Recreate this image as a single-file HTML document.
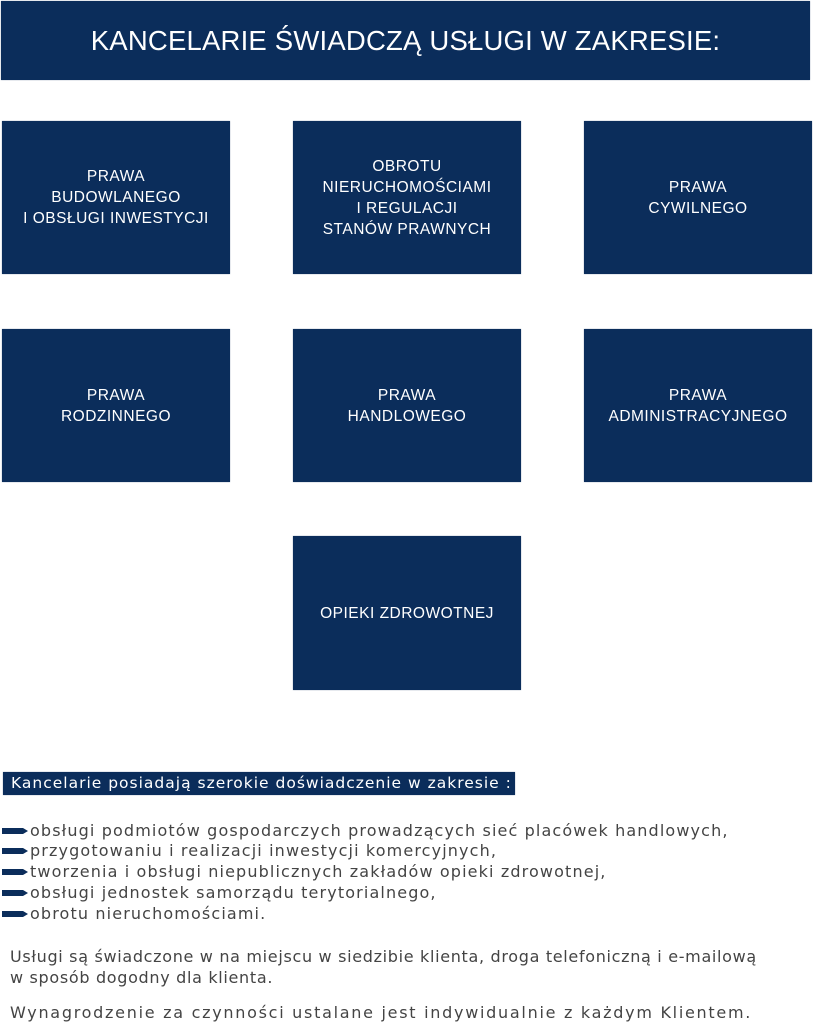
<!DOCTYPE html>
<html><head><meta charset="utf-8"><style>
body{margin:0;width:813px;height:1024px;background:#fff;position:relative;font-family:"Liberation Sans","DejaVu Sans",sans-serif;overflow:hidden}
.b{position:absolute;background:#0b2d5b;color:#fff;display:flex;align-items:center;justify-content:center;text-align:center;font-size:15.5px;line-height:21px;letter-spacing:0.5px;box-shadow:0 0 1px #8090a8}
.t{position:absolute;color:#444;font-size:16px;white-space:nowrap;font-family:"DejaVu Sans",sans-serif;letter-spacing:1.13px}
.ar{position:absolute;left:2px;width:26px;height:8px}
</style></head><body>
<div class="b" style="left:1px;top:1px;width:809px;height:79px;font-size:27.5px;letter-spacing:0.2px">KANCELARIE ŚWIADCZĄ USŁUGI W ZAKRESIE:</div>
<div class="b" style="left:2px;top:121px;width:228px;height:153px">PRAWA<br>BUDOWLANEGO<br>I OBSŁUGI INWESTYCJI</div>
<div class="b" style="left:293px;top:121px;width:228px;height:153px">OBROTU<br>NIERUCHOMOŚCIAMI<br>I REGULACJI<br>STANÓW PRAWNYCH</div>
<div class="b" style="left:584px;top:121px;width:228px;height:153px">PRAWA<br>CYWILNEGO</div>
<div class="b" style="left:2px;top:329px;width:228px;height:153px">PRAWA<br>RODZINNEGO</div>
<div class="b" style="left:293px;top:329px;width:228px;height:153px">PRAWA<br>HANDLOWEGO</div>
<div class="b" style="left:584px;top:329px;width:228px;height:153px">PRAWA<br>ADMINISTRACYJNEGO</div>
<div class="b" style="left:293px;top:536px;width:228px;height:154px">OPIEKI ZDROWOTNEJ</div>
<div class="b" style="left:3px;top:772px;width:512px;height:23px;font-size:15.5px;justify-content:flex-start;padding-left:8px;box-sizing:border-box;font-family:'DejaVu Sans',sans-serif;letter-spacing:1px;white-space:nowrap">Kancelarie posiadają szerokie doświadczenie w zakresie :</div>
<svg class="ar" style="top:827px" viewBox="0 0 26 8"><path d="M0 1H21L26 4L21 7H0Z" fill="#0b2d5b"/></svg>
<svg class="ar" style="top:847px" viewBox="0 0 26 8"><path d="M0 1H21L26 4L21 7H0Z" fill="#0b2d5b"/></svg>
<svg class="ar" style="top:868px" viewBox="0 0 26 8"><path d="M0 1H21L26 4L21 7H0Z" fill="#0b2d5b"/></svg>
<svg class="ar" style="top:889px" viewBox="0 0 26 8"><path d="M0 1H21L26 4L21 7H0Z" fill="#0b2d5b"/></svg>
<svg class="ar" style="top:910px" viewBox="0 0 26 8"><path d="M0 1H21L26 4L21 7H0Z" fill="#0b2d5b"/></svg>
<div class="t" style="left:30px;top:821px">obsługi podmiotów gospodarczych prowadzących sieć placówek handlowych,</div>
<div class="t" style="left:30px;top:841px">przygotowaniu i realizacji inwestycji komercyjnych,</div>
<div class="t" style="left:30px;top:862px">tworzenia i obsługi niepublicznych zakładów opieki zdrowotnej,</div>
<div class="t" style="left:30px;top:883px">obsługi jednostek samorządu terytorialnego,</div>
<div class="t" style="left:30px;top:904px">obrotu nieruchomościami.</div>
<div class="t" style="left:10px;top:947px;letter-spacing:0.68px">Usługi są świadczone w na miejscu w siedzibie klienta, droga telefoniczną i e-mailową</div>
<div class="t" style="left:10px;top:968px;letter-spacing:0.68px">w sposób dogodny dla klienta.</div>
<div class="t" style="left:10px;top:1003px;letter-spacing:1.72px">Wynagrodzenie za czynności ustalane jest indywidualnie z każdym Klientem.</div>
</body></html>
